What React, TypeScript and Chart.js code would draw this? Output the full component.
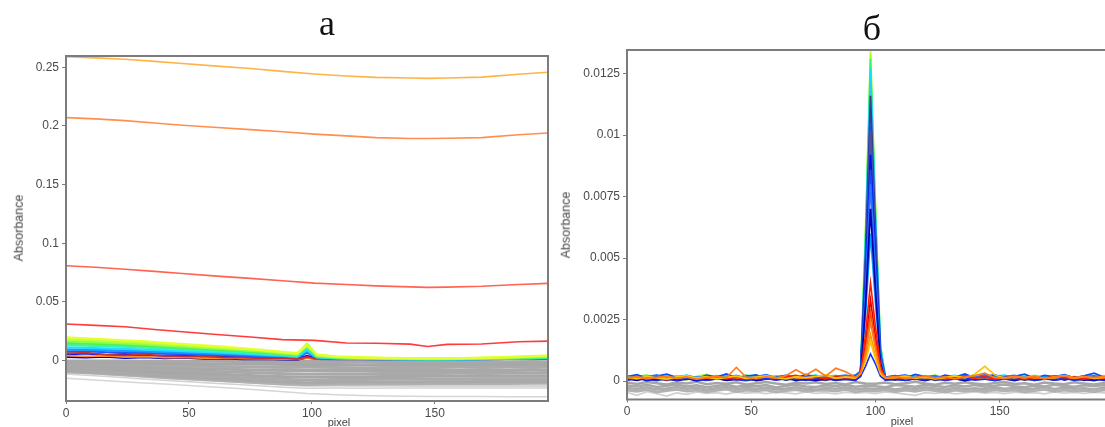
import React, { useEffect, useRef } from "react";
import { Chart, registerables } from "chart.js";

Chart.register(...registerables);

// ---------------- Panel "а" (left) ----------------
const X_TICKS = [0, 50, 100, 150];
const Y_TICKS_A = [0, 0.05, 0.1, 0.15, 0.2, 0.25];

const X_MAIN = [0, 12, 24, 36, 46, 60, 75, 88, 101, 114, 126, 140, 147, 155, 169, 184, 196];
const mainYellow = [0.259, 0.258, 0.2568, 0.255, 0.2534, 0.2512, 0.249, 0.2465, 0.2442, 0.2425, 0.2414, 0.2408, 0.2405, 0.2408, 0.2416, 0.244, 0.2457];
const mainOrange = [0.2071, 0.206, 0.2045, 0.2025, 0.2008, 0.1988, 0.1968, 0.195, 0.193, 0.1915, 0.19, 0.1893, 0.1893, 0.1895, 0.19, 0.1925, 0.194];
const mainSalmon = [0.0808, 0.0795, 0.0778, 0.076, 0.0744, 0.0722, 0.07, 0.068, 0.066, 0.0648, 0.0636, 0.0628, 0.0624, 0.0626, 0.0633, 0.0648, 0.0658];
const mainRed = [0.0311, 0.03, 0.0288, 0.0265, 0.0248, 0.0224, 0.02, 0.0178, 0.0172, 0.015, 0.0147, 0.014, 0.012, 0.0138, 0.0141, 0.016, 0.0165];

const X_CLU = [0, 8, 16, 24, 32, 40, 48, 56, 64, 72, 80, 88, 94, 98, 102, 110, 120, 130, 140, 150, 160, 170, 180, 188, 196];
const cluYellow = [0.0196, 0.0189, 0.018, 0.0172, 0.0163, 0.015, 0.014, 0.0128, 0.0117, 0.0104, 0.009, 0.0074, 0.0062, 0.0128, 0.005, 0.0034, 0.0026, 0.0022, 0.002, 0.0018, 0.0019, 0.0024, 0.003, 0.0036, 0.0042];
const cluYellowGreen = [0.0182, 0.0176, 0.0168, 0.016, 0.0151, 0.014, 0.0131, 0.012, 0.0109, 0.0097, 0.0084, 0.0069, 0.0057, 0.0143, 0.0046, 0.0031, 0.0024, 0.002, 0.0018, 0.0017, 0.0018, 0.0022, 0.0027, 0.0033, 0.0039];
const cluLightGreen = [0.0166, 0.016, 0.0153, 0.0146, 0.0138, 0.0128, 0.0119, 0.0109, 0.0099, 0.0088, 0.0076, 0.0062, 0.0051, 0.0137, 0.0041, 0.0028, 0.0021, 0.0018, 0.0016, 0.0015, 0.0016, 0.002, 0.0024, 0.0029, 0.0034];
const cluGreen = [0.015, 0.0145, 0.0139, 0.0132, 0.0125, 0.0116, 0.0108, 0.0099, 0.009, 0.008, 0.0069, 0.0056, 0.0046, 0.0126, 0.0037, 0.0025, 0.0019, 0.0016, 0.0014, 0.0013, 0.0014, 0.0017, 0.0021, 0.0025, 0.003];
const cluAqua = [0.0132, 0.0128, 0.0122, 0.0116, 0.011, 0.0102, 0.0095, 0.0087, 0.0079, 0.007, 0.006, 0.0049, 0.004, 0.011, 0.0032, 0.0022, 0.0017, 0.0014, 0.0012, 0.0011, 0.0012, 0.0015, 0.0019, 0.0022, 0.0026];
const cluCyan = [0.0112, 0.0108, 0.0104, 0.0099, 0.0093, 0.0087, 0.0081, 0.0074, 0.0067, 0.006, 0.0051, 0.0042, 0.0034, 0.0092, 0.0027, 0.0019, 0.0015, 0.0012, 0.001, 0.001, 0.0011, 0.0013, 0.0016, 0.0019, 0.0023];
const cluSky = [0.0094, 0.0091, 0.0087, 0.0083, 0.0078, 0.0073, 0.0068, 0.0062, 0.0056, 0.005, 0.0043, 0.0035, 0.0028, 0.0078, 0.0022, 0.0016, 0.0014, 0.0013, 0.0012, 0.0012, 0.0013, 0.0014, 0.0015, 0.0016, 0.0018];
const cluBlue = [0.0076, 0.008, 0.0071, 0.0068, 0.0066, 0.0058, 0.0057, 0.0049, 0.0046, 0.004, 0.0035, 0.0029, 0.0022, 0.0068, 0.0022, 0.0016, 0.0014, 0.0013, 0.0012, 0.0012, 0.0013, 0.0014, 0.0015, 0.0016, 0.0017];
const cluDarkBlue = [0.0052, 0.006, 0.0047, 0.0055, 0.0043, 0.004, 0.0045, 0.0032, 0.003, 0.0027, 0.0022, 0.0018, 0.0014, 0.004, 0.0018, 0.0014, 0.0013, 0.0012, 0.0012, 0.0011, 0.0012, 0.0013, 0.0014, 0.0015, 0.0015];
const cluNavy = [0.003, 0.0026, 0.0034, 0.0022, 0.0028, 0.002, 0.0024, 0.0016, 0.0018, 0.0012, 0.0013, 0.0009, 0.0008, 0.0025, 0.0014, 0.0012, 0.0012, 0.0011, 0.0011, 0.0011, 0.0011, 0.0012, 0.0013, 0.0013, 0.0014];
const cluRed = [0.006, 0.0068, 0.005, 0.0044, 0.0052, 0.004, 0.0035, 0.0038, 0.0026, 0.0024, 0.0018, 0.002, 0.0012, 0.003, 0.0016, 0.0013, 0.0012, 0.0012, 0.0011, 0.0011, 0.0012, 0.0012, 0.0013, 0.0014, 0.0014];
const cluOrange = [0.0042, 0.0036, 0.004, 0.003, 0.0034, 0.0026, 0.0028, 0.002, 0.0022, 0.0016, 0.0015, 0.0012, 0.001, 0.0022, 0.0015, 0.0013, 0.0012, 0.0011, 0.0011, 0.0012, 0.0012, 0.0013, 0.0013, 0.0014, 0.0015];

const X_GRAY_A = [0, 10, 20, 30, 40, 50, 60, 70, 80, 90, 98, 110, 120, 130, 140, 150, 160, 170, 180, 190, 196];
const grayA1 = [-0.0004, -0.0005, -0.0005, -0.0006, -0.0006, -0.0007, -0.0007, -0.0008, -0.0008, -0.0009, -0.0006, -0.001, -0.001, -0.0009, -0.001, -0.001, -0.0009, -0.001, -0.001, -0.0009, -0.001];
const grayA2 = [-0.0016, -0.0018, -0.002, -0.0022, -0.0025, -0.0026, -0.0029, -0.003, -0.0032, -0.0034, -0.0031, -0.0034, -0.0035, -0.0034, -0.0033, -0.0034, -0.0033, -0.0034, -0.0033, -0.0033, -0.0034];
const grayA3 = [-0.0029, -0.0032, -0.0035, -0.0039, -0.0044, -0.0047, -0.005, -0.0053, -0.0057, -0.006, -0.0058, -0.006, -0.0061, -0.0059, -0.006, -0.0059, -0.0058, -0.0059, -0.0058, -0.0059, -0.0058];
const grayA4 = [-0.0041, -0.0045, -0.0051, -0.0056, -0.0062, -0.0067, -0.0072, -0.0077, -0.0082, -0.0086, -0.0085, -0.0086, -0.0086, -0.0085, -0.0086, -0.0084, -0.0085, -0.0084, -0.0084, -0.0083, -0.0084];
const grayA5 = [-0.0053, -0.0059, -0.0066, -0.0073, -0.0081, -0.0087, -0.0094, -0.01, -0.0106, -0.0112, -0.0115, -0.0112, -0.0112, -0.0111, -0.011, -0.011, -0.0109, -0.011, -0.0109, -0.0108, -0.0109];
const grayA6 = [-0.0066, -0.0072, -0.0081, -0.009, -0.01, -0.0107, -0.0115, -0.0123, -0.0131, -0.0138, -0.0141, -0.0138, -0.0138, -0.0137, -0.0137, -0.0135, -0.0135, -0.0135, -0.0134, -0.0134, -0.0134];
const grayA7 = [-0.0077, -0.0085, -0.0096, -0.0105, -0.0117, -0.0126, -0.0135, -0.0144, -0.0154, -0.0162, -0.0166, -0.0162, -0.0162, -0.016, -0.016, -0.0159, -0.0159, -0.0158, -0.0158, -0.0157, -0.0157];
const grayA8 = [-0.0087, -0.0097, -0.0109, -0.012, -0.0133, -0.0143, -0.0154, -0.0164, -0.0175, -0.0184, -0.0189, -0.0184, -0.0184, -0.0182, -0.0182, -0.018, -0.018, -0.0179, -0.0179, -0.0178, -0.0178];
const grayA9 = [-0.0095, -0.0105, -0.0118, -0.013, -0.0145, -0.0155, -0.0167, -0.0178, -0.019, -0.02, -0.0205, -0.02, -0.02, -0.0198, -0.0198, -0.0196, -0.0196, -0.0195, -0.0195, -0.0194, -0.0194];
const lightA1 = [-0.0101, -0.0112, -0.0125, -0.0138, -0.0152, -0.0163, -0.0175, -0.0186, -0.0198, -0.021, -0.0218, -0.0216, -0.0217, -0.0216, -0.0218, -0.0217, -0.0217, -0.0218, -0.0217, -0.0218, -0.0218];
const lightA2 = [-0.0115, -0.0128, -0.0141, -0.0155, -0.0168, -0.018, -0.0193, -0.0205, -0.0217, -0.0229, -0.0237, -0.0235, -0.0236, -0.0234, -0.0235, -0.0234, -0.0235, -0.0234, -0.0235, -0.0234, -0.0235];
const lightA3 = [-0.0152, -0.0164, -0.0177, -0.0189, -0.02, -0.0213, -0.0226, -0.0239, -0.0253, -0.0268, -0.0282, -0.0292, -0.0298, -0.0302, -0.0305, -0.0306, -0.0307, -0.0307, -0.0308, -0.0308, -0.0308];

// ---------------- Panel "б" (right) ----------------
const Y_TICKS_B = [0, 0.0025, 0.005, 0.0075, 0.01, 0.0125];

const X_R = [0, 4, 8, 12, 16, 20, 24, 28, 32, 36, 40, 44, 48, 52, 56, 60, 64, 68, 72, 76, 80, 84, 88, 92,
  94, 96, 98, 100, 102, 104,
  108, 112, 116, 120, 124, 128, 132, 136, 140, 144, 148, 152, 156, 160, 164, 168, 172, 176, 180, 184, 188, 192, 196];

const rLime = [0.00015, 0.00022, 0.00008, 0.00018, 0.00025, 0.00012, 0.00005, 0.00019, 0.00027, 0.00014, 0.00009, 0.0002, 0.00016, 0.00024, 0.00011, 0.00006, 0.00018, 0.00022, 0.00013, 0.00017, 0.00026, 0.0001, 0.00015, 0.00012,
  0.0004, 0.0062, 0.0134, 0.0072, 0.0015, 0.00018,
  0.00012, 0.00021, 0.00009, 0.00017, 0.00024, 0.00013, 0.00019, 0.00008, 0.00016, 0.00023, 0.00011, 0.00018, 0.00014, 0.00026, 0.0001, 0.00017, 0.00021, 0.00012, 0.00019, 0.00009, 0.00016, 0.00022, 0.00014];
const rGreen = [0.0001, 0.00018, 0.00024, 0.00009, 0.00014, 0.00021, 0.00017, 0.00006, 0.00013, 0.00022, 0.00018, 0.0001, 0.00025, 0.00012, 0.00016, 0.00021, 0.00008, 0.00014, 0.0002, 0.00011, 0.00018, 0.00023, 0.00009, 0.00014,
  0.0003, 0.0058, 0.0131, 0.0068, 0.0012, 0.00016,
  0.0002, 0.0001, 0.00016, 0.00022, 0.00009, 0.00018, 0.00013, 0.00024, 0.00011, 0.00015, 0.0002, 0.00008, 0.00017, 0.00012, 0.00023, 0.00015, 0.0001, 0.00019, 0.00013, 0.00021, 0.00011, 0.00016, 0.0002];
const rCyan = [0.00008, 0.00016, 0.00011, 0.00021, 0.00007, 0.00015, 0.00024, 0.00013, 0.00009, 0.00017, 0.00022, 0.00012, 0.00006, 0.00018, 0.00023, 0.0001, 0.00016, 0.00009, 0.00019, 0.00024, 0.00013, 0.00007, 0.00017, 0.00011,
  0.00035, 0.0056, 0.0127, 0.0066, 0.0014, 0.00012,
  0.00017, 0.00009, 0.00021, 0.00014, 0.00006, 0.00018, 0.00023, 0.0001, 0.00015, 0.00008, 0.00019, 0.00024, 0.00012, 0.00016, 0.00007, 0.0002, 0.00013, 0.00025, 0.00011, 0.00017, 0.00022, 0.00009, 0.00015];
const rDark = [0.00012, 0.00005, 0.00014, 0.0001, 0.00003, 0.00011, 0.00007, 0.00015, 0.00004, 0.00009, 0.00013, 0.00006, 0.00011, 0.00002, 0.00008, 0.00014, 0.00005, 0.0001, 0.00016, 0.00007, 0.00003, 0.00012, 0.00008, 0.00005,
  0.0003, 0.0051, 0.0116, 0.0061, 0.0011, 0.00008,
  0.00004, 0.00011, 0.00007, 0.00014, 0.00003, 0.00009, 0.00012, 0.00006, 0.0001, 0.00015, 0.00005, 0.00008, 0.00013, 0.00004, 0.0001, 0.00007, 0.00014, 0.00006, 0.00011, 0.00003, 0.00009, 0.00012, 0.00006];
const rBlue1 = [0.00018, 0.00026, 0.00011, 0.0002, 0.00028, 0.00014, 0.00019, 0.00009, 0.00024, 0.00016, 0.00029, 0.00013, 0.0002, 0.00025, 0.00008, 0.00017, 0.00023, 0.00012, 0.00027, 0.00015, 0.00021, 0.0001, 0.00018, 0.00024,
  0.0004, 0.0046, 0.0104, 0.0055, 0.0011, 0.00016,
  0.00022, 0.00013, 0.00027, 0.00018, 0.0001, 0.00024, 0.00016, 0.00029, 0.00012, 0.0002, 0.00025, 0.00014, 0.00019, 0.00028, 0.00011, 0.00023, 0.00017, 0.00026, 0.00013, 0.00021, 0.00032, 0.00015, 0.0002];
const rBlue2 = [0.00005, 0.00013, 0.00002, 0.00009, 0.00016, 0.00006, 0.00011, 0.00001, 0.00008, 0.00014, 0.00004, 0.0001, 0.00017, 0.00003, 0.00009, 0.00012, 0.00005, 0.00015, 0.00007, 0.00002, 0.00011, 0.00006, 0.00013, 0.00004,
  0.0003, 0.0041, 0.0092, 0.0049, 0.0009, 0.00006,
  0.00009, 0.00003, 0.00012, 0.00007, 0.00015, 0.00004, 0.0001, 0.00002, 0.00013, 0.00008, 0.00005, 0.00014, 0.00006, 0.00011, 0.00003, 0.00009, 0.00016, 0.00005, 0.00012, 0.00007, 0.00002, 0.0001, 0.00006];
const rBlue3 = [0.00021, 0.00011, 0.00017, 0.00025, 0.0001, 0.00016, 0.00022, 0.00014, 0.00019, 0.00008, 0.00015, 0.00023, 0.00011, 0.00018, 0.00026, 0.00013, 0.0002, 0.00009, 0.00016, 0.00022, 0.00012, 0.00019, 0.00024, 0.00015,
  0.0004, 0.0036, 0.008, 0.0043, 0.0009, 0.00015,
  0.00019, 0.00025, 0.00012, 0.00017, 0.00022, 0.00009, 0.00016, 0.00021, 0.00014, 0.00027, 0.00011, 0.00018, 0.00023, 0.00013, 0.00019, 0.00008, 0.00016, 0.00024, 0.00012, 0.00018, 0.00021, 0.00014, 0.00019];
const rNavy = [0.00009, 0.00003, 0.00012, 0.00006, 0.0001, 0.00002, 0.00008, 0.00013, 0.00005, 0.00011, 0.00003, 0.00007, 0.00012, 0.00004, 0.0001, 0.00006, 0.00013, 0.00002, 0.00009, 0.00005, 0.00011, 0.00003, 0.00008, 0.00006,
  0.0002, 0.0031, 0.007, 0.0037, 0.0007, 0.00005,
  0.00011, 0.00004, 0.00009, 0.00002, 0.00012, 0.00006, 0.0001, 0.00003, 0.00008, 0.00013, 0.00005, 0.00009, 0.00002, 0.00011, 0.00007, 0.00012, 0.00004, 0.00009, 0.00014, 0.00006, 0.0001, 0.00003, 0.00008];
const rRed = [0.00014, 0.00008, 0.00017, 0.00011, 0.00006, 0.00015, 0.0002, 0.00009, 0.00013, 0.00018, 0.0001, 0.00016, 0.00007, 0.00014, 0.00021, 0.00011, 0.00017, 0.00023, 0.00012, 0.00016, 0.00009, 0.00019, 0.00013, 0.00017,
  0.0003, 0.0019, 0.004, 0.0022, 0.0006, 0.00012,
  0.00016, 0.00009, 0.00013, 0.00018, 0.00011, 0.00007, 0.00015, 0.0002, 0.00012, 0.00017, 0.00009, 0.00014, 0.00019, 0.00008, 0.00016, 0.00011, 0.00021, 0.00013, 0.00017, 0.00008, 0.00015, 0.00012, 0.00018];
const rOrange = [0.00012, 0.00018, 0.00009, 0.00015, 0.0002, 0.00011, 0.00016, 0.00008, 0.00014, 0.00019, 0.00013, 0.00056, 0.00015, 0.0001, 0.00017, 0.00012, 0.00022, 0.00046, 0.00024, 0.00048, 0.0002, 0.00052, 0.00038, 0.00016,
  0.0003, 0.0011, 0.0024, 0.0013, 0.0004, 0.00014,
  0.00018, 0.0001, 0.00015, 0.00021, 0.00012, 0.00017, 0.00009, 0.00016, 0.00022, 0.00032, 0.00014, 0.00011, 0.00018, 0.00013, 0.00019, 0.0001, 0.00016, 0.00021, 0.00012, 0.00017, 0.00014, 0.00019, 0.00011];
const rYellow = [0.00016, 0.0001, 0.00019, 0.00013, 0.00008, 0.00017, 0.00022, 0.00012, 0.00018, 0.00009, 0.00015, 0.0002, 0.00011, 0.00016, 0.00021, 0.00014, 0.00009, 0.00018, 0.00013, 0.00019, 0.00023, 0.00012, 0.00017, 0.00014,
  0.0003, 0.0008, 0.0016, 0.0009, 0.0003, 0.00013,
  0.00014, 0.0002, 0.00011, 0.00017, 0.00009, 0.00015, 0.00021, 0.00013, 0.00028, 0.0006, 0.00025, 0.00012, 0.00018, 0.00014, 0.0002, 0.0001, 0.00016, 0.00022, 0.00013, 0.00018, 0.00011, 0.00015, 0.0002];
const rBlue4 = [0.00003, 0.00011, 0.00006, 0.00001, 0.0001, 0.00004, 0.00012, 0.00007, 0.00002, 0.00009, 0.00013, 0.00005, 0.00001, 0.00008, 0.00011, 0.00004, 0.0001, 0.00006, 0.00002, 0.00009, 0.00012, 0.00005, 0.00008, 0.00003,
  0.0002, 0.0006, 0.0011, 0.0007, 0.0002, 0.00004,
  0.00008, 0.00002, 0.00011, 0.00005, 0.0001, 0.00003, 0.00009, 0.00013, 0.00004, 0.00008, 0.00001, 0.0001, 0.00006, 0.00012, 0.00003, 0.00009, 0.00005, 0.00011, 0.00002, 0.00008, 0.00012, 0.00004, 0.00009];

const X_PK = [0, 48, 92, 94, 96, 98, 100, 102, 104, 150, 196];
const pkSky = [0.00012, 0.00015, 0.00013, 0.0004, 0.0054, 0.0122, 0.0064, 0.0013, 0.00014, 0.00016, 0.00012];
const pkSlate = [0.0001, 0.00009, 0.00011, 0.0003, 0.0045, 0.0102, 0.0054, 0.001, 0.0001, 0.00008, 0.0001];
const pkRoyal = [0.00014, 0.00012, 0.00016, 0.0003, 0.0038, 0.0086, 0.0046, 0.0009, 0.00013, 0.00015, 0.00012];
const pkAzure = [0.00013, 0.00016, 0.00011, 0.0003, 0.0027, 0.006, 0.0032, 0.0007, 0.00012, 0.00014, 0.00016];
const pkCrimson = [0.00011, 0.00013, 0.0001, 0.0003, 0.0015, 0.0033, 0.0018, 0.0005, 0.00011, 0.00012, 0.0001];
const pkVermilion = [0.00013, 0.0001, 0.00014, 0.0003, 0.0013, 0.0028, 0.0015, 0.0004, 0.00012, 0.0001, 0.00013];
const pkAmber = [0.00012, 0.00014, 0.00011, 0.0003, 0.0009, 0.0019, 0.001, 0.0003, 0.00013, 0.00011, 0.00014];

const X_GRAY_B = [0, 4, 8, 12, 16, 20, 24, 28, 32, 36, 40, 44, 48, 52, 56, 60, 64, 68, 72, 76, 80, 84, 88, 92, 96,
  100, 104, 108, 112, 116, 120, 124, 128, 132, 136, 140, 144, 148, 152, 156, 160, 164, 168, 172, 176, 180, 184, 188, 192, 196];
const grayB1 = [-0.00006, -0.00012, -0.00004, -0.00009, -0.00014, -0.00006, -0.0001, -0.00003, -0.00013, -0.00008, -0.00011, -0.00005, -0.00014, -0.00009, -0.00004, -0.0001, -0.00015, -0.00007, -0.0001, -0.00005, -0.00012, -0.00008, -0.00014, -0.00004, -0.0001,
  -0.00011, -0.00006, -0.00013, -0.00009, -0.00003, -0.0001, -0.00015, -0.00007, -0.00011, -0.00005, -0.0001, -0.00014, -0.00008, -0.00004, -0.00012, -0.00009, -0.00015, -0.00006, -0.0001, -0.00013, -0.00005, -0.0001, -0.00014, -0.00008, -0.00011];
const grayB2 = [-0.00018, -0.00022, -0.00015, -0.00024, -0.00019, -0.00014, -0.00022, -0.00017, -0.00025, -0.0002, -0.00015, -0.00023, -0.00018, -0.00021, -0.00016, -0.00026, -0.00019, -0.00015, -0.00022, -0.00024, -0.00017, -0.0002, -0.00016, -0.00023, -0.00018,
  -0.00021, -0.00025, -0.00016, -0.00019, -0.00023, -0.00015, -0.0002, -0.00024, -0.00017, -0.00022, -0.00016, -0.00023, -0.00019, -0.00014, -0.00021, -0.00025, -0.00018, -0.00022, -0.00015, -0.0002, -0.00023, -0.00017, -0.00021, -0.00016, -0.00022];
const grayB3 = [-0.00028, -0.00032, -0.00025, -0.00034, -0.0003, -0.00024, -0.00031, -0.00027, -0.00035, -0.00029, -0.00024, -0.00032, -0.00028, -0.00031, -0.00026, -0.00034, -0.0003, -0.00025, -0.00032, -0.00035, -0.00027, -0.00031, -0.00025, -0.00033, -0.00029,
  -0.00032, -0.00026, -0.00034, -0.00028, -0.00032, -0.00025, -0.0003, -0.00035, -0.00027, -0.00032, -0.00029, -0.00033, -0.00026, -0.00031, -0.00028, -0.00034, -0.0003, -0.00024, -0.00032, -0.00027, -0.00031, -0.00029, -0.00034, -0.00026, -0.00031];
const grayB4 = [-0.00037, -0.00042, -0.00035, -0.00045, -0.00039, -0.00034, -0.00041, -0.00037, -0.00044, -0.00038, -0.00033, -0.00043, -0.00037, -0.0004, -0.00036, -0.00045, -0.00039, -0.00035, -0.00042, -0.00038, -0.00037, -0.00041, -0.00034, -0.00044, -0.00038,
  -0.00041, -0.00036, -0.00043, -0.00037, -0.00042, -0.00035, -0.00039, -0.00045, -0.00037, -0.00041, -0.00038, -0.00043, -0.00036, -0.0004, -0.00037, -0.00044, -0.00039, -0.00034, -0.00042, -0.00037, -0.00041, -0.00038, -0.00044, -0.00036, -0.0004];
const grayB5 = [-0.00046, -0.00058, -0.00043, -0.00052, -0.00061, -0.00048, -0.00054, -0.00044, -0.0005, -0.00047, -0.00053, -0.00045, -0.00049, -0.00046, -0.00051, -0.00045, -0.00048, -0.00052, -0.00044, -0.0005, -0.00047, -0.00052, -0.00045, -0.00049, -0.00046,
  -0.00051, -0.00044, -0.00048, -0.00053, -0.00058, -0.00047, -0.0005, -0.00045, -0.00052, -0.00048, -0.00044, -0.00049, -0.00046, -0.00051, -0.00045, -0.00048, -0.00047, -0.00052, -0.00044, -0.00049, -0.00046, -0.0005, -0.00045, -0.00048, -0.00051];

// ---------------- helpers ----------------
const pts = (xs: number[], ys: number[]) => {
  const n = Math.min(xs.length, ys.length);
  const out: { x: number; y: number }[] = [];
  for (let i = 0; i < n; i++) out.push({ x: xs[i], y: ys[i] });
  return out;
};

const ds = (xs: number[], ys: number[], color: string, width: number) => ({
  data: pts(xs, ys),
  borderColor: color,
  backgroundColor: color,
  borderWidth: width,
  pointRadius: 0,
  tension: 0,
  fill: false,
});

const framePlugin = {
  id: "frame",
  afterDatasetsDraw(chart: any) {
    const { ctx, chartArea: a } = chart;
    ctx.save();
    ctx.strokeStyle = "#7c7c7c";
    ctx.lineWidth = 2;
    ctx.strokeRect(a.left, a.top, a.right - a.left, a.bottom - a.top);
    ctx.restore();
  },
};

const FONT = "'Liberation Sans', Arial, sans-serif";

function buildConfig(
  datasets: any[],
  yMin: number,
  yMax: number,
  yTicks: number[],
  yWidth: number,
  xHeight: number,
  padTop: number,
  padRight: number
) {
  return {
    type: "line" as const,
    data: { datasets },
    options: {
      animation: false as const,
      responsive: false,
      maintainAspectRatio: false,
      events: [],
      layout: { padding: { left: 0, right: padRight, top: padTop, bottom: 0 } },
      plugins: { legend: { display: false }, tooltip: { enabled: false }, title: { display: false } },
      scales: {
        x: {
          type: "linear" as const,
          min: 0,
          max: 196,
          afterBuildTicks: (s: any) => {
            s.ticks = X_TICKS.map((v) => ({ value: v }));
          },
          afterFit: (s: any) => {
            s.height = xHeight;
          },
          border: { display: false },
          grid: { display: true, drawOnChartArea: false, drawTicks: true, tickLength: 3, color: "#7c7c7c" },
          ticks: { font: { family: FONT, size: 12 }, color: "#4a4a4a", padding: 2, maxRotation: 0, autoSkip: false },
        },
        y: {
          type: "linear" as const,
          min: yMin,
          max: yMax,
          afterBuildTicks: (s: any) => {
            s.ticks = yTicks.map((v) => ({ value: v }));
          },
          afterFit: (s: any) => {
            s.width = yWidth;
          },
          border: { display: false },
          grid: { display: true, drawOnChartArea: false, drawTicks: true, tickLength: 4, color: "#7c7c7c" },
          ticks: {
            font: { family: FONT, size: 12 },
            color: "#4a4a4a",
            padding: 3,
            autoSkip: false,
            callback: (v: any) => String(v),
          },
        },
      },
    },
    plugins: [framePlugin],
  };
}

function ChartCanvas({ config, width, height, left }: { config: any; width: number; height: number; left: number }) {
  const ref = useRef<HTMLCanvasElement | null>(null);
  useEffect(() => {
    if (!ref.current) return;
    const chart = new Chart(ref.current, config);
    return () => chart.destroy();
  }, [config]);
  return (
    <canvas
      ref={ref}
      width={width}
      height={height}
      style={{ position: "absolute", left, top: 0, width, height, display: "block" }}
    />
  );
}

// dataset index 0 is painted last (on top)
const leftDatasets = [
  ds(X_MAIN, mainYellow, "#ffb347", 1.6),
  ds(X_MAIN, mainOrange, "#ff8f4e", 1.6),
  ds(X_MAIN, mainSalmon, "#ff6352", 1.6),
  ds(X_MAIN, mainRed, "#ff3b3b", 1.6),
  ds(X_CLU, cluYellow, "#e4ff2e", 2.4),
  ds(X_CLU, cluYellowGreen, "#b8ff3c", 2.4),
  ds(X_CLU, cluLightGreen, "#8cff4c", 2.4),
  ds(X_CLU, cluGreen, "#55ee55", 2.4),
  ds(X_CLU, cluAqua, "#33f5c0", 2.4),
  ds(X_CLU, cluCyan, "#22ddff", 2.4),
  ds(X_CLU, cluRed, "#c83030", 1.8),
  ds(X_CLU, cluSky, "#1a9aff", 2.4),
  ds(X_CLU, cluOrange, "#ff8a30", 1.8),
  ds(X_CLU, cluBlue, "#2255ff", 2.2),
  ds(X_CLU, cluDarkBlue, "#0a14e6", 2.2),
  ds(X_CLU, cluNavy, "#0000b8", 2.2),
  ds(X_GRAY_A, grayA1, "#a9a9a9", 3),
  ds(X_GRAY_A, grayA2, "#a7a7a7", 3),
  ds(X_GRAY_A, grayA3, "#aaaaaa", 3),
  ds(X_GRAY_A, grayA4, "#a8a8a8", 3),
  ds(X_GRAY_A, grayA5, "#a9a9a9", 3),
  ds(X_GRAY_A, grayA6, "#a7a7a7", 3),
  ds(X_GRAY_A, grayA7, "#aaaaaa", 3),
  ds(X_GRAY_A, grayA8, "#a9a9a9", 3),
  ds(X_GRAY_A, grayA9, "#b0b0b0", 3),
  ds(X_GRAY_A, lightA1, "#c8c8c8", 1.5),
  ds(X_GRAY_A, lightA2, "#d2d2d2", 1.5),
  ds(X_GRAY_A, lightA3, "#d6d6d6", 1.5),
];

const rightDatasets = [
  ds(X_R, rOrange, "#ff7a1a", 1.6),
  ds(X_R, rYellow, "#ffc400", 1.6),
  ds(X_R, rRed, "#ff1c00", 1.6),
  ds(X_R, rBlue4, "#1430ff", 1.6),
  ds(X_PK, pkAmber, "#ff9a00", 1.6),
  ds(X_PK, pkVermilion, "#ff4a00", 1.6),
  ds(X_PK, pkCrimson, "#e00000", 1.6),
  ds(X_R, rNavy, "#0000b0", 1.8),
  ds(X_PK, pkAzure, "#00a0ff", 1.8),
  ds(X_R, rBlue3, "#2a74ff", 1.8),
  ds(X_PK, pkRoyal, "#1848ff", 1.8),
  ds(X_R, rBlue2, "#0010e8", 1.8),
  ds(X_PK, pkSlate, "#5050a0", 1.8),
  ds(X_R, rBlue1, "#0050ff", 1.8),
  ds(X_R, rDark, "#3c3c88", 1.8),
  ds(X_PK, pkSky, "#30c8ff", 1.8),
  ds(X_R, rCyan, "#00e6ff", 1.8),
  ds(X_R, rGreen, "#38f85a", 1.8),
  ds(X_R, rLime, "#a8ff28", 1.8),
  ds(X_GRAY_B, grayB1, "#a6a6a6", 2.6),
  ds(X_GRAY_B, grayB2, "#a9a9a9", 2.6),
  ds(X_GRAY_B, grayB3, "#acacac", 2.6),
  ds(X_GRAY_B, grayB4, "#b2b2b2", 2.6),
  ds(X_GRAY_B, grayB5, "#d0d0d0", 1.6),
];

const leftConfig = buildConfig(leftDatasets, -0.0345, 0.2596, Y_TICKS_A, 66, 26, 56, 12);
const rightConfig = buildConfig(rightDatasets, -0.00075, 0.01346, Y_TICKS_B, 67, 27.5, 50, 14);

const smallText: React.CSSProperties = {
  position: "absolute",
  fontFamily: FONT,
  color: "#444",
  whiteSpace: "nowrap",
  lineHeight: 1,
};

const titleText: React.CSSProperties = {
  position: "absolute",
  fontFamily: "'Liberation Serif', 'Times New Roman', serif",
  fontSize: 36,
  color: "#111",
  lineHeight: 1,
  transform: "translateX(-50%)",
  whiteSpace: "nowrap",
};

export default function App() {
  return (
    <div
      style={{
        position: "fixed",
        left: 0,
        top: 0,
        width: 1105,
        height: 427,
        overflow: "hidden",
        background: "#ffffff",
      }}
    >
      <ChartCanvas config={leftConfig} width={560} height={427} left={0} />
      <ChartCanvas config={rightConfig} width={568} height={427} left={560} />
      <div style={{ ...titleText, left: 327, top: 5 }}>а</div>
      <div style={{ ...titleText, left: 872, top: 10 }}>б</div>
      <div
        style={{
          ...smallText,
          fontSize: 12.5,
          left: 19,
          top: 228,
          transform: "translate(-50%, -50%) rotate(-90deg)",
        }}
      >
        Absorbance
      </div>
      <div
        style={{
          ...smallText,
          fontSize: 12.5,
          left: 566,
          top: 225,
          transform: "translate(-50%, -50%) rotate(-90deg)",
        }}
      >
        Absorbance
      </div>
      <div style={{ ...smallText, fontSize: 11, left: 339, top: 422, transform: "translate(-50%, -50%)" }}>pixel</div>
      <div style={{ ...smallText, fontSize: 11, left: 902, top: 421, transform: "translate(-50%, -50%)" }}>pixel</div>
    </div>
  );
}
